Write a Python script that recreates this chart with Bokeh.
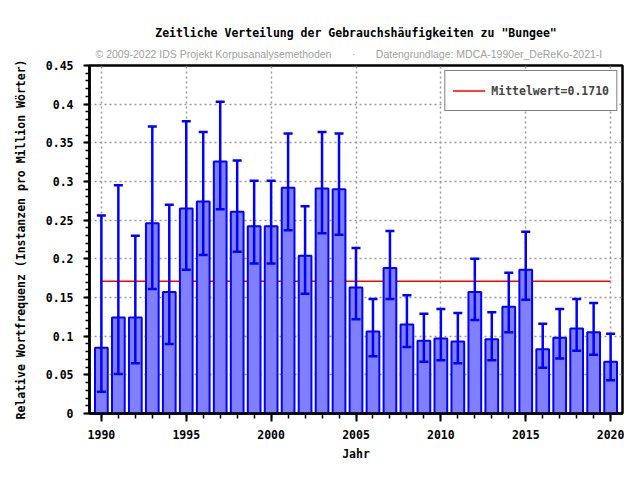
from bokeh.plotting import figure
from bokeh.models import (Range1d, SingleIntervalTicker, CustomJSTickFormatter, Legend,
                          LegendItem, Title)
from bokeh.embed import file_html
from bokeh.resources import INLINE

years = list(range(1990, 2021))
values = [0.085, 0.124, 0.124, 0.246, 0.157, 0.265, 0.274, 0.326, 0.261, 0.242,
          0.242, 0.292, 0.204, 0.291, 0.290, 0.163, 0.106, 0.188, 0.115, 0.094,
          0.097, 0.093, 0.157, 0.096, 0.138, 0.186, 0.083, 0.098, 0.110, 0.105,
          0.067]
lower = [0.028, 0.051, 0.065, 0.161, 0.090, 0.186, 0.205, 0.264, 0.209, 0.194,
         0.194, 0.237, 0.155, 0.233, 0.231, 0.122, 0.074, 0.148, 0.086, 0.067,
         0.069, 0.065, 0.121, 0.069, 0.105, 0.147, 0.059, 0.071, 0.081, 0.076,
         0.043]
upper = [0.256, 0.295, 0.230, 0.371, 0.270, 0.378, 0.364, 0.403, 0.327, 0.301,
         0.301, 0.362, 0.268, 0.364, 0.362, 0.214, 0.148, 0.236, 0.153, 0.129,
         0.135, 0.130, 0.200, 0.131, 0.182, 0.235, 0.116, 0.135, 0.148, 0.143,
         0.103]
mean_value = 0.1710

title_text = 'Zeitliche Verteilung der Gebrauchshäufigkeiten zu "Bungee"'
subtitle_text = ("© 2009-2022 IDS Projekt Korpusanalysemethoden" + "\u00a0" * 7 + "·" +
                 "\u00a0" * 7 + "Datengrundlage: MDCA-1990er_DeReKo-2021-I")
x_label = "Jahr"
y_label = "Relative Wortfrequenz (Instanzen pro Million Wörter)"

MONO = "DejaVu Sans Mono"
FS = "11.5px"
BLUE = "#0000FF"

p = figure(width=624, height=464, output_backend="svg", toolbar_location=None,
           x_range=Range1d(1989.3, 2020.7), y_range=Range1d(0, 0.45),
           min_border_left=89, min_border_right=2, min_border_top=65, min_border_bottom=51)

p.add_layout(Title(text=subtitle_text, align="left", offset=6, text_font="Liberation Sans",
                   text_font_size="10.5px", text_font_style="normal", text_color="#a0a0a0",
                   standoff=11), "above")
p.add_layout(Title(text=title_text, align="center", text_font=MONO,
                   text_font_size=FS, text_font_style="bold", text_color="black",
                   standoff=2), "above")

mean_line = p.line(x=[years[0], years[-1]], y=[mean_value, mean_value],
                   line_color="#FF0000", line_width=1.5)
p.vbar(x=years, top=values, width=0.75, fill_color="#8080FF", line_color=BLUE, line_width=2)
p.segment(x0=years, y0=lower, x1=years, y1=upper, line_color=BLUE, line_width=2.5)
p.scatter(x=years, y=upper, marker="dash", size=9, line_color=BLUE, line_width=2.5)
p.scatter(x=years, y=lower, marker="dash", size=9, line_color=BLUE, line_width=2.5)

p.xaxis.ticker = SingleIntervalTicker(interval=5, num_minor_ticks=5)
p.yaxis.ticker = SingleIntervalTicker(interval=0.05, num_minor_ticks=5)
p.yaxis.formatter = CustomJSTickFormatter(code="return String(Number(tick.toFixed(2)));")

for ax in (p.xaxis[0], p.yaxis[0]):
    ax.axis_line_color = "black"
    ax.axis_line_width = 2.5
    ax.major_tick_line_color = "black"
    ax.minor_tick_line_color = "black"
    ax.major_tick_line_width = 2
    ax.minor_tick_line_width = 1.5
    ax.major_tick_in = 0
    ax.minor_tick_in = 0
    ax.major_label_text_font = MONO
    ax.major_label_text_font_size = FS
    ax.major_label_text_font_style = "bold"
    ax.major_label_text_color = "black"
    ax.axis_label_text_font = MONO
    ax.axis_label_text_font_size = FS
    ax.axis_label_text_font_style = "bold"
    ax.axis_label_text_color = "black"

p.xaxis.major_tick_out = 8
p.xaxis.minor_tick_out = 5
p.yaxis.major_tick_out = 6
p.yaxis.minor_tick_out = 4
p.xaxis.major_label_standoff = 8
p.yaxis.major_label_standoff = 10
p.xaxis.axis_label = x_label
p.yaxis.axis_label = y_label
p.xaxis.axis_label_standoff = 5
p.yaxis.axis_label_standoff = 15

p.grid.grid_line_color = "#999999"
p.grid.grid_line_dash = "2 3"
p.grid.grid_line_width = 1.5

p.outline_line_color = "black"
p.outline_line_width = 2.5
p.outline_line_alpha = 1

legend = Legend(items=[LegendItem(label=f"Mittelwert={mean_value:.4f}", renderers=[mean_line])],
                location="top_right")
legend.border_line_color = "black"
legend.border_line_width = 1.5
legend.background_fill_color = "white"
legend.background_fill_alpha = 1
legend.label_text_font = MONO
legend.label_text_font_size = FS
legend.label_text_font_style = "bold"
legend.margin = 5
legend.padding = 7
legend.glyph_width = 33
legend.glyph_height = 25
legend.label_height = 25
legend.label_standoff = 6
p.add_layout(legend)

p.background_fill_color = "white"
p.border_fill_color = "white"

open("out.html", "w").write(file_html(p, INLINE))
